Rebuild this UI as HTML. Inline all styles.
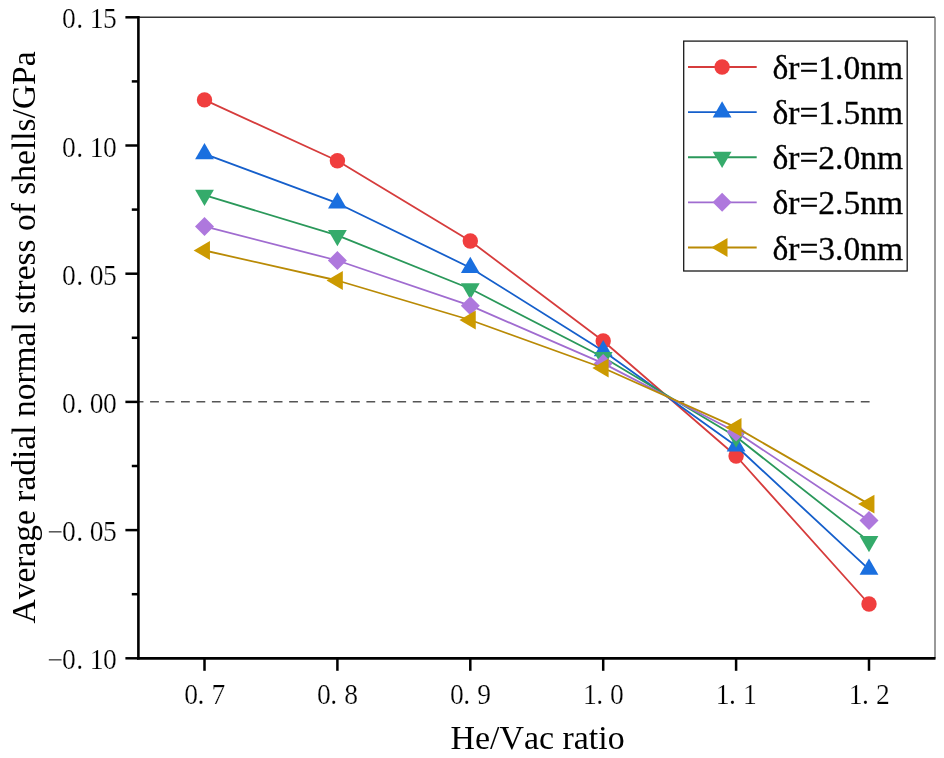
<!DOCTYPE html>
<html><head><meta charset="utf-8"><style>
html,body{margin:0;padding:0;background:#fff;}
svg{display:block;font-family:"Liberation Serif",serif;font-kerning:none;}
text{filter:grayscale(1)}
</style></head><body>
<svg width="944" height="758" viewBox="0 0 944 758">
<rect width="944" height="758" fill="#fff"/>
<line x1="138" y1="401.8" x2="869.8" y2="401.8" stroke="#555" stroke-width="1.6" stroke-dasharray="8.8 6.65" stroke-dashoffset="3.35"/>
<polyline points="204.50,99.90 337.40,160.70 470.30,241.00 603.20,341.00 736.10,456.00 869.00,604.00" fill="none" stroke="#D63C3C" stroke-width="1.8" stroke-linejoin="round"/>
<circle cx="204.50" cy="99.90" r="7.7" fill="#F03E3E"/>
<circle cx="337.40" cy="160.70" r="7.7" fill="#F03E3E"/>
<circle cx="470.30" cy="241.00" r="7.7" fill="#F03E3E"/>
<circle cx="603.20" cy="341.00" r="7.7" fill="#F03E3E"/>
<circle cx="736.10" cy="456.00" r="7.7" fill="#F03E3E"/>
<circle cx="869.00" cy="604.00" r="7.7" fill="#F03E3E"/>
<polyline points="204.50,153.80 337.40,203.20 470.30,267.70 603.20,350.90 736.10,446.00 869.00,569.40" fill="none" stroke="#155FCB" stroke-width="1.8" stroke-linejoin="round"/>
<polygon points="204.50,142.95 213.90,159.23 195.10,159.23" fill="#1A6FDF"/>
<polygon points="337.40,192.35 346.80,208.62 328.00,208.62" fill="#1A6FDF"/>
<polygon points="470.30,256.85 479.70,273.12 460.90,273.12" fill="#1A6FDF"/>
<polygon points="603.20,340.05 612.60,356.32 593.80,356.32" fill="#1A6FDF"/>
<polygon points="736.10,435.15 745.50,451.43 726.70,451.43" fill="#1A6FDF"/>
<polygon points="869.00,558.55 878.40,574.82 859.60,574.82" fill="#1A6FDF"/>
<polyline points="204.50,195.10 337.40,235.40 470.30,288.75 603.20,357.30 736.10,436.80 869.00,541.40" fill="none" stroke="#2A985A" stroke-width="1.8" stroke-linejoin="round"/>
<polygon points="204.50,205.95 213.90,189.67 195.10,189.67" fill="#35AB6B"/>
<polygon points="337.40,246.25 346.80,229.97 328.00,229.97" fill="#35AB6B"/>
<polygon points="470.30,299.60 479.70,283.32 460.90,283.32" fill="#35AB6B"/>
<polygon points="603.20,368.15 612.60,351.88 593.80,351.88" fill="#35AB6B"/>
<polygon points="736.10,447.65 745.50,431.38 726.70,431.38" fill="#35AB6B"/>
<polygon points="869.00,552.25 878.40,535.98 859.60,535.98" fill="#35AB6B"/>
<polyline points="204.50,226.40 337.40,260.50 470.30,305.70 603.20,363.40 736.10,432.00 869.00,520.60" fill="none" stroke="#A06CD0" stroke-width="1.8" stroke-linejoin="round"/>
<polygon points="204.50,216.90 214.00,226.40 204.50,235.90 195.00,226.40" fill="#AE78DD"/>
<polygon points="337.40,251.00 346.90,260.50 337.40,270.00 327.90,260.50" fill="#AE78DD"/>
<polygon points="470.30,296.20 479.80,305.70 470.30,315.20 460.80,305.70" fill="#AE78DD"/>
<polygon points="603.20,353.90 612.70,363.40 603.20,372.90 593.70,363.40" fill="#AE78DD"/>
<polygon points="736.10,422.50 745.60,432.00 736.10,441.50 726.60,432.00" fill="#AE78DD"/>
<polygon points="869.00,511.10 878.50,520.60 869.00,530.10 859.50,520.60" fill="#AE78DD"/>
<polyline points="204.50,250.50 337.40,280.50 470.30,320.00 603.20,368.00 736.10,427.40 869.00,504.10" fill="none" stroke="#B98A05" stroke-width="1.8" stroke-linejoin="round"/>
<polygon points="193.65,250.50 209.93,241.10 209.93,259.90" fill="#CC9A00"/>
<polygon points="326.55,280.50 342.82,271.10 342.82,289.90" fill="#CC9A00"/>
<polygon points="459.45,320.00 475.73,310.60 475.73,329.40" fill="#CC9A00"/>
<polygon points="592.35,368.00 608.62,358.60 608.62,377.40" fill="#CC9A00"/>
<polygon points="725.25,427.40 741.52,418.00 741.52,436.80" fill="#CC9A00"/>
<polygon points="858.15,504.10 874.42,494.70 874.42,513.50" fill="#CC9A00"/>
<line x1="138" y1="17.3" x2="935" y2="17.3" stroke="#333" stroke-width="1.5"/>
<line x1="935" y1="17.3" x2="935" y2="658.4" stroke="#777" stroke-width="1.5"/>
<line x1="138.4" y1="16.1" x2="138.4" y2="659.6" stroke="#000" stroke-width="2.6"/>
<line x1="137.1" y1="658.4" x2="935.5" y2="658.4" stroke="#000" stroke-width="2.6"/>
<line x1="125.4" y1="17.3" x2="138" y2="17.3" stroke="#000" stroke-width="2.5"/>
<line x1="125.4" y1="145.5" x2="138" y2="145.5" stroke="#000" stroke-width="2.5"/>
<line x1="125.4" y1="273.7" x2="138" y2="273.7" stroke="#000" stroke-width="2.5"/>
<line x1="125.4" y1="401.9" x2="138" y2="401.9" stroke="#000" stroke-width="2.5"/>
<line x1="125.4" y1="530.1" x2="138" y2="530.1" stroke="#000" stroke-width="2.5"/>
<line x1="125.4" y1="658.3" x2="138" y2="658.3" stroke="#000" stroke-width="2.5"/>
<line x1="131.8" y1="81.4" x2="138" y2="81.4" stroke="#000" stroke-width="2.5"/>
<line x1="131.8" y1="209.6" x2="138" y2="209.6" stroke="#000" stroke-width="2.5"/>
<line x1="131.8" y1="337.79999999999995" x2="138" y2="337.79999999999995" stroke="#000" stroke-width="2.5"/>
<line x1="131.8" y1="466.0" x2="138" y2="466.0" stroke="#000" stroke-width="2.5"/>
<line x1="131.8" y1="594.2" x2="138" y2="594.2" stroke="#000" stroke-width="2.5"/>
<line x1="204.5" y1="658" x2="204.5" y2="670.8" stroke="#000" stroke-width="2.5"/>
<line x1="337.4" y1="658" x2="337.4" y2="670.8" stroke="#000" stroke-width="2.5"/>
<line x1="470.3" y1="658" x2="470.3" y2="670.8" stroke="#000" stroke-width="2.5"/>
<line x1="603.2" y1="658" x2="603.2" y2="670.8" stroke="#000" stroke-width="2.5"/>
<line x1="736.1" y1="658" x2="736.1" y2="670.8" stroke="#000" stroke-width="2.5"/>
<line x1="869.0" y1="658" x2="869.0" y2="670.8" stroke="#000" stroke-width="2.5"/>
<g font-size="30.3" fill="#000" stroke="#fff" stroke-width="0.25"><text transform="translate(68.85 28.30) scale(0.91 1)" text-anchor="middle">0</text><text transform="translate(79.75 28.30) scale(0.91 1)" text-anchor="middle">.</text><text transform="translate(96.60 28.30) scale(0.91 1)" text-anchor="middle">1</text><text transform="translate(110.00 28.30) scale(0.91 1)" text-anchor="middle">5</text><text transform="translate(68.85 156.50) scale(0.91 1)" text-anchor="middle">0</text><text transform="translate(79.75 156.50) scale(0.91 1)" text-anchor="middle">.</text><text transform="translate(96.60 156.50) scale(0.91 1)" text-anchor="middle">1</text><text transform="translate(110.00 156.50) scale(0.91 1)" text-anchor="middle">0</text><text transform="translate(68.85 284.70) scale(0.91 1)" text-anchor="middle">0</text><text transform="translate(79.75 284.70) scale(0.91 1)" text-anchor="middle">.</text><text transform="translate(96.60 284.70) scale(0.91 1)" text-anchor="middle">0</text><text transform="translate(110.00 284.70) scale(0.91 1)" text-anchor="middle">5</text><text transform="translate(68.85 412.90) scale(0.91 1)" text-anchor="middle">0</text><text transform="translate(79.75 412.90) scale(0.91 1)" text-anchor="middle">.</text><text transform="translate(96.60 412.90) scale(0.91 1)" text-anchor="middle">0</text><text transform="translate(110.00 412.90) scale(0.91 1)" text-anchor="middle">0</text><text transform="translate(68.85 541.10) scale(0.91 1)" text-anchor="middle">0</text><text transform="translate(79.75 541.10) scale(0.91 1)" text-anchor="middle">.</text><text transform="translate(96.60 541.10) scale(0.91 1)" text-anchor="middle">0</text><text transform="translate(110.00 541.10) scale(0.91 1)" text-anchor="middle">5</text><text transform="translate(55.10 541.80) scale(0.91 1)" text-anchor="middle">−</text><text transform="translate(68.85 669.30) scale(0.91 1)" text-anchor="middle">0</text><text transform="translate(79.75 669.30) scale(0.91 1)" text-anchor="middle">.</text><text transform="translate(96.60 669.30) scale(0.91 1)" text-anchor="middle">1</text><text transform="translate(110.00 669.30) scale(0.91 1)" text-anchor="middle">0</text><text transform="translate(55.10 670.00) scale(0.91 1)" text-anchor="middle">−</text><text transform="translate(191.10 704.30) scale(0.91 1)" text-anchor="middle">0</text><text transform="translate(200.90 704.30) scale(0.91 1)" text-anchor="middle">.</text><text transform="translate(218.30 704.30) scale(0.91 1)" text-anchor="middle">7</text><text transform="translate(324.00 704.30) scale(0.91 1)" text-anchor="middle">0</text><text transform="translate(333.80 704.30) scale(0.91 1)" text-anchor="middle">.</text><text transform="translate(351.20 704.30) scale(0.91 1)" text-anchor="middle">8</text><text transform="translate(456.90 704.30) scale(0.91 1)" text-anchor="middle">0</text><text transform="translate(466.70 704.30) scale(0.91 1)" text-anchor="middle">.</text><text transform="translate(484.10 704.30) scale(0.91 1)" text-anchor="middle">9</text><text transform="translate(589.80 704.30) scale(0.91 1)" text-anchor="middle">1</text><text transform="translate(599.60 704.30) scale(0.91 1)" text-anchor="middle">.</text><text transform="translate(617.00 704.30) scale(0.91 1)" text-anchor="middle">0</text><text transform="translate(722.70 704.30) scale(0.91 1)" text-anchor="middle">1</text><text transform="translate(732.50 704.30) scale(0.91 1)" text-anchor="middle">.</text><text transform="translate(749.90 704.30) scale(0.91 1)" text-anchor="middle">1</text><text transform="translate(855.60 704.30) scale(0.91 1)" text-anchor="middle">1</text><text transform="translate(865.40 704.30) scale(0.91 1)" text-anchor="middle">.</text><text transform="translate(882.80 704.30) scale(0.91 1)" text-anchor="middle">2</text></g>
<text x="537.6" y="749.3" font-size="33.9" text-anchor="middle">He/Vac ratio</text>
<text transform="translate(34.7,337.5) rotate(-90)" x="0" y="0" font-size="33.5" text-anchor="middle">Average radial normal stress of shells/GPa</text>
<rect x="683.7" y="41.1" width="223.5" height="229.9" fill="#fff" stroke="#1a1a1a" stroke-width="1.3"/>
<line x1="688" y1="67.00" x2="756.7" y2="67.00" stroke="#D63C3C" stroke-width="1.8"/>
<circle cx="722.10" cy="67.00" r="7.7" fill="#F03E3E"/>
<text x="772.4" y="78.70" font-size="33.6" stroke="#000" stroke-width="0.3">δr=1.0nm</text>
<line x1="688" y1="112.12" x2="756.7" y2="112.12" stroke="#155FCB" stroke-width="1.8"/>
<polygon points="722.10,101.27 731.50,117.55 712.70,117.55" fill="#1A6FDF"/>
<text x="772.4" y="123.90" font-size="33.6" stroke="#000" stroke-width="0.3">δr=1.5nm</text>
<line x1="688" y1="157.24" x2="756.7" y2="157.24" stroke="#2A985A" stroke-width="1.8"/>
<polygon points="722.10,168.09 731.50,151.81 712.70,151.81" fill="#35AB6B"/>
<text x="772.4" y="169.10" font-size="33.6" stroke="#000" stroke-width="0.3">δr=2.0nm</text>
<line x1="688" y1="202.36" x2="756.7" y2="202.36" stroke="#A06CD0" stroke-width="1.8"/>
<polygon points="722.10,192.86 731.60,202.36 722.10,211.86 712.60,202.36" fill="#AE78DD"/>
<text x="772.4" y="214.30" font-size="33.6" stroke="#000" stroke-width="0.3">δr=2.5nm</text>
<line x1="688" y1="247.48" x2="756.7" y2="247.48" stroke="#B98A05" stroke-width="1.8"/>
<polygon points="711.25,247.48 727.52,238.08 727.52,256.88" fill="#CC9A00"/>
<text x="772.4" y="259.50" font-size="33.6" stroke="#000" stroke-width="0.3">δr=3.0nm</text>
</svg>
</body></html>
